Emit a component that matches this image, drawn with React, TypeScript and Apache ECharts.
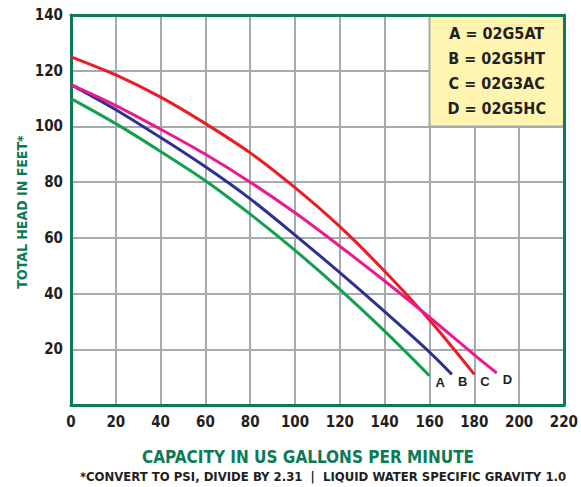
import React, { useEffect, useRef } from "react";
import * as echarts from "echarts";

const gpmA = [0, 20, 40, 60, 80, 100, 120, 140, 160];
const headA = [110, 101, 91, 80.5, 68.5, 55.5, 41.5, 26.5, 10.5];
const gpmB = [0, 20, 40, 60, 80, 100, 120, 140, 160, 170];
const headB = [115, 106, 96, 85.5, 74, 61, 47.5, 33.5, 19, 11];
const gpmC = [0, 20, 40, 60, 80, 100, 120, 140, 160, 180];
const headC = [125, 118.5, 110.5, 101, 90.5, 78, 64, 48, 30.5, 11];
const gpmD = [0, 20, 40, 60, 80, 100, 120, 140, 160, 180, 190];
const headD = [115, 107.5, 99, 90, 80, 69, 57, 44.5, 31.5, 18, 11.5];

const curveLetters = ["A", "B", "C", "D"];
const modelNames = ["02G5AT", "02G5HT", "02G3AC", "02G5HC"];
const legendBox = [[160, 140], [220, 100]];

const xTitle = "CAPACITY IN US GALLONS PER MINUTE";
const yTitle = "TOTAL HEAD IN FEET*";
const footnote = "*CONVERT TO PSI, DIVIDE BY 2.31  |  LIQUID WATER SPECIFIC GRAVITY 1.0";

const GREEN = "#0d7a56";
const GRID = "#a6aaae";
const TEXT = "#231f20";
const FONT = "DejaVu Sans Condensed";

const colors = ["#11a04e", "#2e3192", "#ec1c24", "#ec1a8c"];

function pairs(xs: number[], ys: number[]) {
  return xs.map((x, i) => [x, ys[i]]);
}

export default function App() {
  const ref = useRef<HTMLDivElement>(null);
  useEffect(() => {
    if (!ref.current) return;
    const chart = echarts.init(ref.current, null, { renderer: "svg" });
    const sets = [
      pairs(gpmA, headA),
      pairs(gpmB, headB),
      pairs(gpmC, headC),
      pairs(gpmD, headD),
    ];
    const series: any[] = sets.map((d, i) => ({
      type: "line",
      data: d,
      smooth: 0.3,
      showSymbol: false,
      symbol: "none",
      lineStyle: { color: colors[i], width: 3 },
      z: 3,
      endLabel: {
        show: true,
        formatter: curveLetters[i],
        color: TEXT,
        fontFamily: "Liberation Sans",
        fontWeight: "bold",
        fontSize: 13,
        distance: 0,
        offset: [6, 7],
      },
    }));
    series[0].markArea = {
      silent: true,
      itemStyle: { color: "#fff5b1", borderColor: GRID, borderWidth: 2 },
      label: {
        show: true,
        position: "inside",
        formatter: curveLetters.map((l, i) => `${l} = ${modelNames[i]}`).join("\n"),
        color: TEXT,
        fontFamily: FONT,
        fontWeight: "bold",
        fontSize: 16,
        lineHeight: 25,
        align: "center",
      },
      data: [[{ coord: legendBox[0] }, { coord: legendBox[1] }]],
    };

    chart.setOption({
      animation: false,
      backgroundColor: "#ffffff",
      grid: { left: 71, right: 12, top: 15, bottom: 82, containLabel: false },
      xAxis: [
        {
          type: "value",
          min: 0,
          max: 220,
          interval: 20,
          axisLine: { show: true, lineStyle: { color: GREEN, width: 3 } },
          axisTick: { show: false },
          splitLine: { show: true, lineStyle: { color: GRID, width: 2 } },
          axisLabel: {
            color: TEXT,
            fontFamily: FONT,
            fontWeight: "bold",
            fontSize: 15,
            margin: 9,
          },
        },
        {
          type: "value",
          position: "top",
          min: 0,
          max: 220,
          z: 10,
          axisLine: { show: true, onZero: false, lineStyle: { color: GREEN, width: 3 } },
          axisTick: { show: false },
          axisLabel: { show: false },
          splitLine: { show: false },
        },
      ],
      yAxis: [
        {
          type: "value",
          min: 0,
          max: 140,
          interval: 20,
          axisLine: { show: true, lineStyle: { color: GREEN, width: 3 } },
          axisTick: { show: false },
          splitLine: { show: true, lineStyle: { color: GRID, width: 2 } },
          axisLabel: {
            color: TEXT,
            fontFamily: FONT,
            fontWeight: "bold",
            fontSize: 15,
            margin: 8,
            formatter: (v: number) => (v === 0 ? "" : String(v)),
          },
        },
        {
          type: "value",
          position: "right",
          min: 0,
          max: 140,
          z: 10,
          axisLine: { show: true, onZero: false, lineStyle: { color: GREEN, width: 3 } },
          axisTick: { show: false },
          axisLabel: { show: false },
          splitLine: { show: false },
        },
      ],
      graphic: [
        {
          type: "text",
          x: 22,
          y: 212,
          rotation: Math.PI / 2,
          style: {
            text: yTitle,
            fill: GREEN,
            font: `bold 14px "${FONT}"`,
            textAlign: "center",
            textVerticalAlign: "middle",
          },
        },
        {
          type: "text",
          x: 308,
          y: 457,
          style: {
            text: xTitle,
            fill: GREEN,
            font: `bold 17px "${FONT}"`,
            textAlign: "center",
            textVerticalAlign: "middle",
          },
        },
        {
          type: "text",
          x: 323,
          y: 476,
          style: {
            text: footnote,
            fill: TEXT,
            font: `bold 13px "${FONT}"`,
            textAlign: "center",
            textVerticalAlign: "middle",
          },
        },
      ],
      series,
    });
    return () => chart.dispose();
  }, []);
  return (
    <div
      ref={ref}
      style={{ position: "fixed", left: 0, top: 0, width: 581, height: 487 }}
    />
  );
}
